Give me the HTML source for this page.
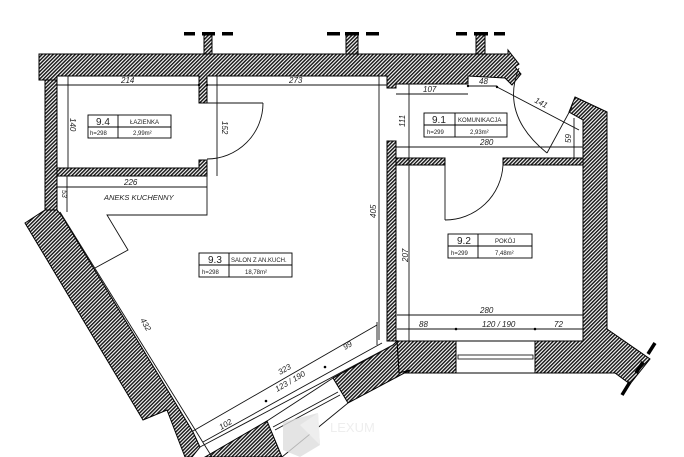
<!DOCTYPE html>
<html><head><meta charset="utf-8"><style>
html,body{margin:0;padding:0;background:#fff;}
svg{display:block;}
text{font-family:"Liberation Sans",sans-serif;fill:#222;}
.d{stroke:#111;stroke-width:0.9;fill:none;}
.w{fill:url(#h);stroke:#000;stroke-width:1;}
.it{font-style:italic;font-size:8px;}
</style></head><body>
<svg width="684" height="457" viewBox="0 0 684 457" xmlns="http://www.w3.org/2000/svg">
<defs>
<pattern id="h" width="2.6" height="2.6" patternUnits="userSpaceOnUse" patternTransform="rotate(45)">
<rect width="2.6" height="2.6" fill="#fff"/>
<rect width="1.5" height="2.6" fill="#1a1a1a"/>
</pattern>
</defs>
<g fill="#000">
<rect x="184" y="32" width="11" height="3.5"/><rect x="202" y="32" width="13" height="3.5"/><rect x="222" y="32" width="11" height="3.5"/>
<rect x="327" y="32" width="13" height="3.5"/><rect x="345" y="32" width="14" height="3.5"/><rect x="366" y="32" width="13" height="3.5"/>
<rect x="456" y="32" width="11" height="3.5"/><rect x="474" y="32" width="14" height="3.5"/><rect x="494" y="32" width="11" height="3.5"/>
</g>
<rect class="w" x="204" y="35" width="8" height="20"/>
<rect class="w" x="346" y="35" width="12" height="20"/>
<rect class="w" x="476" y="35" width="9" height="20"/>
<polygon class="w" points="39,54 508,54 508,50 519,64 515,67 521,74 512,85 505,78 468,76 468,84 396,84 396,88 387,88 387,76 207,76 207,103 199,103 199,76 57,76 57,80 39,80"/>
<polygon class="w" points="45,80 57,80 57,210 45,210"/>
<polygon class="w" points="45,210 57,210 62,216 193,432 200,447 192,457 185,457 167,410 143,420 25,223"/>
<polygon class="w" points="57,168 199,168 199,160 207,160 207,176 57,176"/>
<rect class="w" x="387" y="141" width="9" height="200"/>
<rect class="w" x="396" y="158" width="49" height="7"/>
<rect class="w" x="503" y="158" width="80" height="7"/>
<polygon class="w" points="575,97 607,112 607,329 650,359 630,384 615,373 535,373 535,341 583,341 583,120 569,112"/>
<polygon class="w" points="397,341 456,341 456,373 399,373"/>
<polygon class="w" points="333,378 393,345 397,341 399,373 410,370 348,403"/>
<polygon class="w" points="205,457 267,421 282,457"/>
<rect x="456" y="341" width="79" height="32" fill="#fff" stroke="#000" stroke-width="1"/>
<rect x="458" y="355" width="75" height="4" fill="#fff" stroke="#000" stroke-width="0.8"/>
<line class="d" x1="267" y1="421" x2="333" y2="378"/>
<line class="d" x1="273" y1="427" x2="338" y2="392"/>
<line class="d" x1="275" y1="430" x2="340" y2="395"/>
<line class="d" x1="282" y1="457" x2="348" y2="403"/>
<line class="d" x1="60" y1="212" x2="212" y2="457"/>
<line class="d" x1="200" y1="447" x2="393" y2="345"/>
<g stroke="#000" stroke-width="3.5">
<line x1="655" y1="343" x2="648" y2="354"/><line x1="643" y1="362" x2="636" y2="373"/><line x1="630" y1="382" x2="622" y2="395"/>
</g>
<line class="d" x1="207" y1="103" x2="263" y2="103"/>
<path class="d" d="M263,103 A56,56 0 0 1 207,159"/>
<line class="d" x1="445" y1="165" x2="445" y2="220"/>
<path class="d" d="M445,220 A58,58 0 0 0 503,165"/>
<line class="d" x1="547" y1="153" x2="572" y2="107"/>
<path class="d" d="M519,68 Q500,115 547,153"/>
<polyline class="d" points="207,176 207,215 107,215 128,250 95,268"/>
<g class="d">
<line x1="57" y1="85" x2="199" y2="85"/>
<line x1="207" y1="85" x2="387" y2="85"/>
<line x1="68" y1="76" x2="68" y2="168"/>
<line x1="217" y1="76" x2="217" y2="176"/>
<line x1="57" y1="187" x2="207" y2="187"/>
<line x1="67" y1="176" x2="67" y2="212"/>
<line x1="379" y1="76" x2="379" y2="340"/>
<line x1="396" y1="94" x2="468" y2="94"/>
<line x1="468" y1="86" x2="497" y2="86"/>
<line x1="497" y1="87" x2="579" y2="130"/>
<line x1="409" y1="84" x2="409" y2="341"/>
<line x1="396" y1="147" x2="583" y2="147"/>
<line x1="574" y1="118" x2="574" y2="158"/>
<line x1="397" y1="315" x2="583" y2="315"/>
<line x1="397" y1="329" x2="583" y2="329"/>
<line x1="193" y1="431" x2="377" y2="325"/>
<line x1="203" y1="442" x2="382" y2="343"/>
<line x1="377" y1="322" x2="377" y2="345"/>
</g>
<g fill="#000">
<circle cx="456" cy="329" r="1.3"/><circle cx="535" cy="329" r="1.3"/>
<circle cx="325" cy="367" r="1.3"/><circle cx="266" cy="401" r="1.3"/>
<circle cx="199" cy="85" r="1.2"/><circle cx="207" cy="85" r="1.2"/>
<circle cx="468" cy="86" r="1.2"/><circle cx="497" cy="87" r="1.2"/>
</g>
<g class="it">
<text x="121" y="83">214</text>
<text x="289" y="83">273</text>
<text x="124" y="185">226</text>
<text x="423" y="92">107</text>
<text x="479" y="84">48</text>
<text x="480" y="145">280</text>
<text x="480" y="313">280</text>
<text x="419" y="327">88</text>
<text x="482" y="327">120 / 190</text>
<text x="554" y="327">72</text>
<text x="104" y="200" font-size="7.5">ANEKS KUCHENNY</text>
<text transform="translate(70,118) rotate(90)">140</text>
<text transform="translate(222,121) rotate(90)">152</text>
<text transform="translate(62,190) rotate(90)" font-size="7">53</text>
<text transform="translate(376,218) rotate(-90)">405</text>
<text transform="translate(405,127) rotate(-90)">111</text>
<text transform="translate(408,262) rotate(-90)">207</text>
<text transform="translate(571,143) rotate(-90)">59</text>
<text transform="translate(534,102) rotate(28)">141</text>
<text transform="translate(140,320) rotate(60)">432</text>
<text transform="translate(280,375) rotate(-30)">323</text>
<text transform="translate(277,392) rotate(-30)">123 / 190</text>
<text transform="translate(221,430) rotate(-30)">102</text>
<text transform="translate(345,350) rotate(-30)">99</text>
</g>
<g stroke="#000" stroke-width="0.9" fill="none">
<rect x="88" y="115" width="83" height="23"/><line x1="118" y1="115" x2="118" y2="138"/><line x1="88" y1="127" x2="171" y2="127"/>
<rect x="424" y="113" width="83" height="24"/><line x1="455" y1="113" x2="455" y2="137"/><line x1="424" y1="125" x2="507" y2="125"/>
<rect x="199" y="253" width="93" height="24"/><line x1="229" y1="253" x2="229" y2="277"/><line x1="199" y1="265" x2="292" y2="265"/>
<rect x="448" y="234" width="84" height="24"/><line x1="478" y1="234" x2="478" y2="258"/><line x1="448" y1="246" x2="532" y2="246"/>
</g>
<g font-size="6">
<text x="96" y="125" font-size="10">9.4</text><text x="130" y="124">ŁAZIENKA</text>
<text x="90" y="135">h=298</text><text x="133" y="135">2,99m²</text>
<text x="432" y="123" font-size="10">9.1</text><text x="458" y="122">KOMUNIKACJA</text>
<text x="427" y="134">h=299</text><text x="470" y="134">2,93m²</text>
<text x="208" y="263" font-size="10">9.3</text><text x="231" y="262">SALON Z AN.KUCH.</text>
<text x="202" y="274">h=298</text><text x="245" y="274">18,78m²</text>
<text x="457" y="244" font-size="10">9.2</text><text x="495" y="243">POKÓJ</text>
<text x="451" y="255">h=299</text><text x="495" y="255">7,48m²</text>
</g>
<polygon points="283,422 318,413 320,445 300,457 283,450" fill="#ddd" opacity="0.8"/>
<polygon points="300,425 318,413 320,445" fill="#eee"/>
<text x="330" y="432" font-size="13" style="fill:#eee">LEXUM</text>
</svg>
</body></html>
